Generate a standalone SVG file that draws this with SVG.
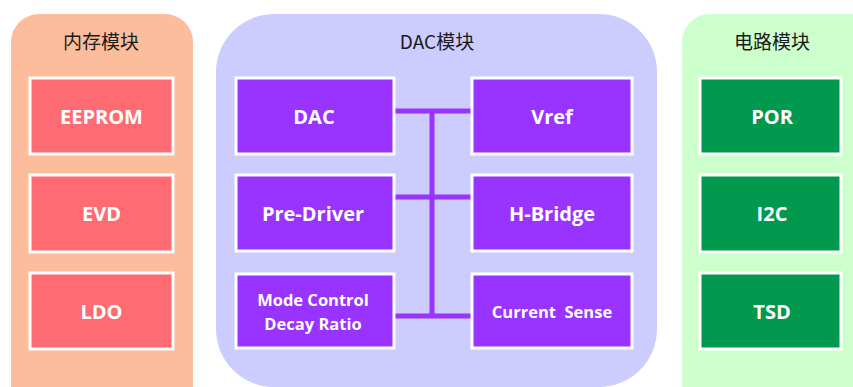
<svg xmlns="http://www.w3.org/2000/svg" width="853" height="387" viewBox="0 0 853 387">
  <style>
    .title { font-family: "Noto Sans CJK SC", "Noto Sans", sans-serif; font-size: 19px; fill: #1a1a1a; text-anchor: middle; }
    .box { stroke: #ffffff; stroke-width: 3; }
    .mem { fill: #ff6b72; }
    .dac { fill: #9933ff; }
    .cir { fill: #00994d; }
    .lbl { font-family: "Open Sans", "Liberation Sans", sans-serif; font-weight: bold; font-size: 20px; fill: #ffffff; text-anchor: middle; dominant-baseline: central; }
    .sm { font-size: 16.5px; }
    .bus { stroke: #9933ff; stroke-width: 5; fill: none; }
  </style>
  <rect width="853" height="387" fill="#ffffff"/>

  <!-- panels -->
  <g id="panel-memory">
    <rect x="11" y="14" width="182" height="400" rx="28" fill="#fbbd9b"/>
    <text class="title" x="101" y="49">内存模块</text>
  </g>
  <g id="panel-dac">
    <rect x="216" y="14" width="441" height="373" rx="58" fill="#ccccff"/>
    <text class="title" x="437" y="49">DAC模块</text>
  </g>
  <g id="panel-circuit">
    <rect x="682" y="14" width="200" height="400" rx="28" fill="#ccffcc"/>
    <text class="title" x="772" y="49">电路模块</text>
  </g>

  <!-- bus connectors -->
  <g id="connectors">
    <line class="bus" x1="394" y1="111" x2="472" y2="111"/>
    <line class="bus" x1="394" y1="197" x2="472" y2="197"/>
    <line class="bus" x1="394" y1="316" x2="472" y2="316"/>
    <line class="bus" x1="432" y1="111" x2="432" y2="316"/>
  </g>

  <!-- memory blocks -->
  <g id="eeprom"><rect class="box mem" x="30" y="78" width="143" height="76"/><text class="lbl" x="101.5" y="116">EEPROM</text></g>
  <g id="evd"><rect class="box mem" x="30" y="175" width="143" height="77"/><text class="lbl" x="101.5" y="213.5">EVD</text></g>
  <g id="ldo"><rect class="box mem" x="30" y="273" width="143" height="76"/><text class="lbl" x="101.5" y="311">LDO</text></g>

  <!-- DAC blocks -->
  <g id="dac"><rect class="box dac" x="236" y="78" width="158" height="76"/><text class="lbl" x="314" y="116">DAC</text></g>
  <g id="vref"><rect class="box dac" x="472" y="78" width="160" height="76"/><text class="lbl" x="552" y="116">Vref</text></g>
  <g id="pre-driver"><rect class="box dac" x="236" y="175" width="158" height="76"/><text class="lbl" x="313" y="213">Pre-Driver</text></g>
  <g id="h-bridge"><rect class="box dac" x="472" y="175" width="160" height="76"/><text class="lbl" x="552" y="213">H-Bridge</text></g>
  <g id="mode-control"><rect class="box dac" x="236" y="274" width="158" height="74"/>
    <text class="lbl sm" x="313" y="299">Mode Control</text>
    <text class="lbl sm" x="313" y="323">Decay Ratio</text>
  </g>
  <g id="current-sense"><rect class="box dac" x="472" y="274" width="160" height="74"/><text class="lbl sm" x="552" y="311" xml:space="preserve">Current  Sense</text></g>

  <!-- circuit blocks -->
  <g id="por"><rect class="box cir" x="700" y="78" width="141" height="76"/><text class="lbl" x="772" y="116">POR</text></g>
  <g id="i2c"><rect class="box cir" x="700" y="175" width="141" height="77"/><text class="lbl" x="772" y="213.5">I2C</text></g>
  <g id="tsd"><rect class="box cir" x="700" y="273" width="141" height="76"/><text class="lbl" x="772" y="311">TSD</text></g>
</svg>
